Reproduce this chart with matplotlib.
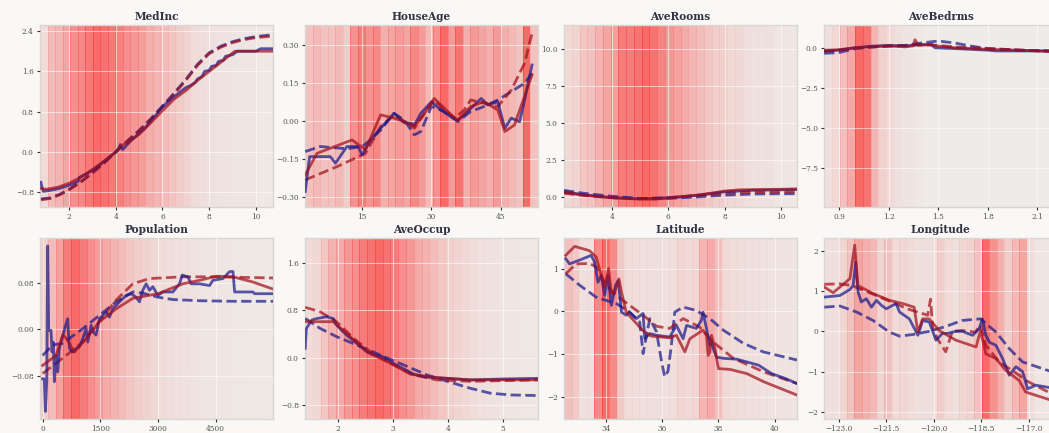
import numpy as np
import matplotlib
matplotlib.use('Agg')
import matplotlib.pyplot as plt

plt.rcParams['font.family'] = ['DejaVu Serif']

BLUE = '#1a1a8c'
RED = '#a3101c'

features = ['MedInc', 'HouseAge', 'AveRooms', 'AveBedrms',
            'Population', 'AveOccup', 'Latitude', 'Longitude']

# relative sample density per equal-width bin (drawn as red bands)
medinc_density = [0.1, 0.3, 0.35, 0.45, 0.6, 0.65, 0.75, 0.85, 0.8, 0.75, 0.7, 0.6, 0.55, 0.5, 0.4,
                  0.35, 0.3, 0.25, 0.2, 0.15, 0.1, 0.08, 0.06, 0.05, 0.04, 0.04, 0.03, 0.03, 0.03, 0.02, 0.02]
houseage_density = [0.2, 0.25, 0.2, 0.2, 0.25, 0.15, 0.45, 0.55, 0.45, 0.5, 0.3, 0.35, 0.4, 0.35, 0.5,
                    0.4, 0.25, 0.45, 0.65, 0.4, 0.6, 0.3, 0.4, 0.35, 0.3, 0.4, 0.3, 0.25, 0.2, 0.65, 0.2]
averooms_density = [0.1, 0.12, 0.2, 0.22, 0.3, 0.38, 0.42, 0.6, 0.6, 0.65, 0.7, 0.65, 0.55, 0.45, 0.4,
                    0.35, 0.28, 0.25, 0.2, 0.15, 0.15, 0.1, 0.1, 0.07, 0.05, 0.05, 0.05, 0.03, 0.03, 0.02]
avebedrms_density = [0.05, 0.08, 0.2, 0.3, 0.6, 0.55, 0.25, 0.12, 0.08, 0.05, 0.03, 0.02, 0.01, 0, 0,
                     0, 0, 0, 0, 0, 0, 0, 0, 0, 0, 0, 0, 0, 0, 0]
population_density = [0.15, 0.25, 0.4, 0.6, 0.7, 0.6, 0.5, 0.42, 0.35, 0.3, 0.25, 0.2, 0.16, 0.13, 0.1,
                      0.08, 0.07, 0.06, 0.05, 0.04, 0.035, 0.03, 0.03, 0.025, 0.02, 0.02, 0.02, 0.015, 0.015, 0.01]
aveoccup_density = [0.08, 0.1, 0.2, 0.3, 0.35, 0.45, 0.5, 0.6, 0.65, 0.7, 0.65, 0.6, 0.5, 0.45, 0.35,
                    0.3, 0.25, 0.2, 0.15, 0.12, 0.1, 0.08, 0.06, 0.05, 0.04, 0.03, 0.03, 0.02, 0.02, 0.02]
latitude_density = [0.2, 0.15, 0.05, 0.05, 0.45, 0.6, 0.45, 0.15, 0.07, 0.06, 0.06, 0.06, 0.05, 0.05, 0.06,
                    0.1, 0.08, 0.1, 0.25, 0.3, 0.2, 0.08, 0.07, 0.06, 0.05, 0.05, 0.04, 0.04, 0.03, 0.03, 0.03]
longitude_density = [0.05, 0.05, 0.1, 0.2, 0.35, 0.3, 0.25, 0.1, 0.2, 0.08, 0.1, 0.08, 0.05, 0.05, 0.05,
                     0.15, 0.08, 0.05, 0.1, 0.12, 0.2, 0.65, 0.45, 0.3, 0.15, 0.25, 0.35, 0.08, 0.03, 0.03, 0.03]

# MedInc curves
medinc_bs_x = [0.8, 0.82, 0.9, 1.2, 1.6, 2.0, 2.4, 2.45, 2.8, 3.2, 3.6, 4.0, 4.15, 4.2, 4.3, 4.7, 5.2, 5.7,
               6.0, 6.5, 7.0, 7.2, 7.4, 7.5, 7.7, 7.8, 8.0, 8.1, 8.3, 8.4, 8.6, 8.7, 9.0, 9.2, 10.0, 10.2, 10.73]
medinc_bs_y = [-0.6, -0.65, -0.78, -0.76, -0.72, -0.66, -0.58, -0.5, -0.42, -0.3, -0.15, 0.0, 0.08, 0.15, 0.05,
               0.25, 0.45, 0.72, 0.9, 1.1, 1.28, 1.32, 1.38, 1.45, 1.5, 1.6, 1.62, 1.7, 1.72, 1.8, 1.82, 1.9,
               1.93, 2.0, 2.0, 2.05, 2.05]
medinc_rs_x = [0.8, 1.0, 1.5, 2.0, 2.5, 3.0, 3.5, 4.0, 4.2, 4.5, 5.0, 5.5, 6.0, 6.5, 7.0, 7.5, 8.0, 8.5, 9.1, 10.73]
medinc_rs_y = [-0.72, -0.74, -0.7, -0.62, -0.5, -0.35, -0.18, 0.0, 0.12, 0.18, 0.35, 0.58, 0.82, 1.05, 1.22,
               1.42, 1.6, 1.78, 2.0, 2.0]
medinc_dash_x = [0.8, 1.2, 1.6, 2.0, 2.5, 3.0, 3.5, 4.0, 4.5, 5.0, 5.5, 6.0, 6.5, 7.0, 7.5, 8.0, 8.5, 9.0,
                 9.5, 10.0, 10.73]
medinc_bd_y = [-0.93, -0.91, -0.84, -0.74, -0.59, -0.41, -0.21, 0.0, 0.22, 0.43, 0.66, 0.91, 1.17, 1.44,
               1.74, 1.97, 2.1, 2.19, 2.25, 2.29, 2.33]
medinc_rd_y = [-0.95, -0.92, -0.85, -0.75, -0.6, -0.42, -0.22, 0.0, 0.22, 0.42, 0.65, 0.9, 1.15, 1.42,
               1.72, 1.95, 2.08, 2.17, 2.23, 2.27, 2.3]

# HouseAge curves
houseage_bs_x = [2.65, 3.6, 5.9, 8.1, 9.2, 11.7, 14.1, 15.0, 16.8, 19.0, 21.9, 24.1, 25.5, 26.3, 27.7, 30.0,
                 32.1, 34.2, 35.7, 37.1, 40.8, 42.2, 44.4, 45.9, 47.3, 49.1, 50.2, 51.8]
houseage_bs_y = [-0.279, -0.141, -0.141, -0.141, -0.167, -0.101, -0.101, -0.134, -0.075, -0.029, 0.030, -0.007,
                 -0.009, -0.016, 0.030, 0.076, 0.043, 0.017, 0.004, 0.024, 0.089, 0.063, 0.076, -0.029, 0.011,
                 -0.003, 0.083, 0.221]
houseage_rs_x = [2.65, 5.2, 12.8, 15.7, 19.0, 21.9, 24.1, 26.3, 28.5, 30.6, 32.8, 35.7, 38.5, 41.4, 44.4,
                 45.9, 48.0, 51.8]
houseage_rs_y = [-0.213, -0.128, -0.075, -0.114, 0.024, 0.011, -0.003, -0.022, 0.030, 0.089, 0.050, 0.001,
                 0.057, 0.076, 0.043, -0.042, -0.016, 0.182]
houseage_rd_x = [2.65, 9.6, 15.7, 19.0, 21.9, 24.8, 26.3, 28.5, 30.6, 32.8, 35.0, 37.1, 38.5, 41.4, 44.4,
                 47.3, 50.2, 51.8]
houseage_rd_y = [-0.233, -0.18, -0.128, -0.022, 0.024, -0.009, -0.029, 0.030, 0.083, 0.043, 0.011, 0.043,
                 0.083, 0.070, 0.057, 0.122, 0.228, 0.346]
houseage_bd_x = [2.65, 5.9, 11.7, 15.0, 16.8, 19.0, 21.9, 24.1, 26.3, 27.7, 30.0, 32.8, 35.7, 38.5, 41.4,
                 44.4, 47.3, 50.2, 51.8]
houseage_bd_y = [-0.121, -0.101, -0.11, -0.101, -0.075, -0.036, 0.030, 0.004, -0.055, -0.042, 0.057, 0.037,
                 -0.003, 0.037, 0.057, 0.083, 0.116, 0.149, 0.188]

# AveRooms curves
averooms_bs_x = [2.3, 3.0, 3.5, 4.0, 5.0, 6.0, 7.0, 8.0, 9.0, 10.57]
averooms_bs_y = [0.35, 0.15, 0.05, -0.05, -0.12, -0.05, 0.1, 0.35, 0.45, 0.5]
averooms_rs_x = [2.3, 3.0, 4.0, 5.0, 5.5, 6.0, 6.5, 7.0, 7.5, 8.0, 8.5, 9.0, 10.0, 10.57]
averooms_rs_y = [0.3, 0.12, -0.05, -0.15, -0.15, -0.08, 0.02, 0.12, 0.25, 0.4, 0.48, 0.5, 0.52, 0.55]
averooms_bd_x = [2.3, 3.0, 4.0, 5.0, 5.5, 6.0, 7.0, 8.0, 9.0, 10.0, 10.57]
averooms_bd_y = [0.45, 0.25, 0.05, -0.1, -0.12, -0.1, 0.0, 0.12, 0.2, 0.22, 0.22]
averooms_rd_x = [2.3, 3.0, 4.0, 5.0, 6.0, 7.0, 8.0, 9.0, 10.57]
averooms_rd_y = [0.25, 0.1, -0.05, -0.12, -0.05, 0.1, 0.25, 0.32, 0.35]

# AveBedrms curves
avebedrms_bs_x = [0.81, 0.9, 1.0, 1.1, 1.2, 1.3, 1.37, 1.46, 1.48, 1.6, 1.8, 1.85, 2.22]
avebedrms_bs_y = [-0.2, -0.15, 0.0, 0.1, 0.15, 0.1, 0.2, 0.2, 0.0, -0.05, -0.15, -0.2, -0.2]
avebedrms_rs_x = [0.81, 0.9, 1.0, 1.1, 1.2, 1.3, 1.35, 1.36, 1.38, 1.46, 1.5, 1.6, 1.8, 2.0, 2.22]
avebedrms_rs_y = [-0.15, -0.12, 0.0, 0.05, 0.12, 0.05, 0.12, 0.5, 0.15, 0.2, 0.1, 0.0, -0.1, -0.15, -0.25]
avebedrms_bd_x = [0.81, 0.9, 1.0, 1.1, 1.2, 1.3, 1.4, 1.5, 1.6, 1.7, 1.8, 2.0, 2.22]
avebedrms_bd_y = [-0.35, -0.3, -0.05, 0.05, 0.1, 0.15, 0.3, 0.42, 0.3, 0.1, -0.05, -0.15, -0.2]
avebedrms_rd_x = [0.81, 0.9, 1.0, 1.2, 1.4, 1.5, 1.6, 1.8, 2.0, 2.22]
avebedrms_rd_y = [-0.25, -0.15, -0.02, 0.1, 0.18, 0.15, 0.05, -0.05, -0.15, -0.25]

# Population curves
population_bs_x = [0, 40, 70, 105, 130, 156, 217, 243, 278, 304, 347, 391, 434, 590, 650, 695, 782, 869, 956,
                   1043, 1130, 1173, 1260, 1321, 1390, 1477, 1564, 1651, 1738, 1824, 1911, 1998, 2172, 2302,
                   2432, 2519, 2606, 2693, 2780, 2866, 3000, 3127, 3388, 3561, 3631, 3778, 3864, 4082, 4343,
                   4430, 4691, 4865, 4952, 4995, 5473, 5516, 5994]
population_bs_y = [-0.085, -0.085, -0.141, -0.09, 0.143, -0.002, -0.002, -0.039, -0.022, -0.09, -0.045,
                   -0.073, -0.033, 0.005, 0.018, -0.033, -0.039, -0.033, -0.03, -0.016, 0.001, -0.022, 0.007,
                   -0.005, -0.01, 0.018, 0.024, 0.029, 0.021, 0.035, 0.041, 0.047, 0.058, 0.061, 0.055, 0.047,
                   0.067, 0.078, 0.067, 0.073, 0.058, 0.064, 0.064, 0.078, 0.093, 0.090, 0.078, 0.078, 0.075,
                   0.084, 0.087, 0.099, 0.099, 0.064, 0.064, 0.061, 0.061]
population_rs_x = [0, 347, 521, 608, 825, 1130, 1477, 1911, 2345, 3000, 3647, 4082, 4517, 4952, 5473, 5994]
population_rs_y = [-0.062, -0.045, -0.01, -0.015, -0.039, -0.016, 0.013, 0.035, 0.053, 0.061, 0.078, 0.084,
                   0.091, 0.09, 0.081, 0.069]
population_bd_x = [0, 260, 521, 1043, 1477, 1911, 2345, 2606, 3000, 3388, 4082, 4952, 5994]
population_bd_y = [-0.045, -0.027, -0.024, 0.001, 0.024, 0.047, 0.064, 0.062, 0.055, 0.051, 0.049, 0.048,
                   0.048]
population_rd_x = [0, 608, 1043, 1477, 1911, 2345, 2780, 3647, 4517, 5994]
population_rd_y = [-0.076, -0.045, -0.022, 0.013, 0.05, 0.078, 0.087, 0.09, 0.09, 0.088]

# AveOccup curves
aveoccup_bs_x = [1.41, 1.43, 1.47, 1.53, 1.62, 1.8, 1.92, 1.98, 2.16, 2.35, 2.53, 2.65, 2.78, 2.84, 3.02,
                 3.2, 3.38, 3.62, 3.99, 4.41, 5.02, 5.63]
aveoccup_bs_y = [0.157, 0.49, 0.55, 0.635, 0.66, 0.69, 0.66, 0.55, 0.38, 0.24, 0.1, 0.045, 0.03, 0.0, -0.1,
                 -0.19, -0.28, -0.33, -0.35, -0.376, -0.36, -0.35]
aveoccup_rs_x = [1.41, 1.68, 1.92, 2.16, 2.53, 3.02, 3.32, 3.8, 4.41, 5.63]
aveoccup_rs_y = [0.607, 0.607, 0.607, 0.41, 0.1, -0.124, -0.28, -0.337, -0.376, -0.376]
aveoccup_bd_x = [1.41, 1.68, 1.98, 2.35, 2.77, 3.2, 3.62, 3.99, 4.41, 4.77, 5.14, 5.63]
aveoccup_bd_y = [0.663, 0.494, 0.354, 0.213, 0.045, -0.124, -0.29, -0.4, -0.517, -0.6, -0.63, -0.64]
aveoccup_rd_x = [1.41, 1.68, 1.98, 2.29, 2.59, 3.02, 3.38, 3.8, 4.41, 5.63]
aveoccup_rd_y = [0.85, 0.775, 0.607, 0.326, 0.1, -0.124, -0.29, -0.376, -0.4, -0.376]

# Latitude curves
latitude_bs_x = [32.55, 32.69, 33.05, 33.46, 33.58, 33.7, 33.82, 33.94, 34.06, 34.18, 34.33, 34.42, 34.54,
                 34.71, 34.83, 35.07, 35.31, 35.37, 35.55, 35.79, 36.26, 36.5, 36.74, 36.86, 37.21, 37.39,
                 37.45, 37.57, 37.69, 37.75, 37.81, 37.93, 38.17, 38.65, 39.43, 39.9, 40.38, 40.8]
latitude_bs_y = [1.23, 1.11, 1.2, 1.31, 1.15, 0.68, 0.84, 0.37, 0.84, 0.14, 0.61, 0.72, -0.02, -0.09, -0.02,
                 -0.17, -0.05, -0.64, -0.52, -0.56, -0.6, -0.33, -0.64, -0.33, -0.4, -0.21, -0.02, -0.4, -0.79,
                 -0.68, -0.87, -1.07, -1.1, -1.12, -1.26, -1.46, -1.57, -1.69]
latitude_rs_x = [32.55, 32.87, 33.4, 33.64, 33.82, 33.94, 34.08, 34.18, 34.3, 34.45, 34.54, 34.71, 35.3,
                 35.6, 36.26, 36.5, 36.8, 36.98, 37.45, 37.57, 37.63, 37.69, 37.75, 37.87, 38.0, 38.42,
                 39.02, 39.62, 40.8]
latitude_rs_y = [1.31, 1.52, 1.42, 1.27, 0.84, 0.57, 1.0, 0.41, 0.45, 0.76, 0.45, -0.02, -0.45, -0.58,
                 -0.62, -0.56, -0.95, -0.64, -0.44, -0.56, -1.03, -0.96, -0.56, -0.87, -1.34, -1.36, -1.46,
                 -1.65, -1.96]
latitude_bd_x = [32.55, 33.05, 33.64, 34.36, 34.83, 35.19, 35.31, 35.55, 35.79, 35.97, 36.08, 36.2, 36.32,
                 36.44, 36.74, 37.21, 37.69, 38.17, 38.89, 39.6, 40.8]
latitude_bd_y = [0.88, 0.61, 0.33, 0.18, -0.02, -0.25, -0.99, -0.17, -0.48, -1.18, -1.53, -1.4, -0.79,
                 -0.02, 0.1, 0.02, -0.17, -0.44, -0.75, -0.95, -1.14]
latitude_rd_x = [32.55, 32.93, 33.4, 33.64, 34.0, 34.36, 34.83, 35.31, 35.79, 36.26, 36.74, 37.33, 37.81,
                 38.53, 39.62, 40.8]
latitude_rd_y = [0.88, 1.11, 1.12, 1.04, 0.61, 0.37, 0.14, -0.09, -0.35, -0.4, -0.17, -0.37, -0.72, -1.1,
                 -1.42, -1.69]

# Longitude curves
longitude_bs_x = [-123.46, -122.97, -122.65, -122.55, -122.47, -122.39, -122.29, -122.13, -121.97, -121.81,
                  -121.66, -121.5, -121.19, -121.08, -120.77, -120.5, -120.35, -120.14, -120.03, -119.93,
                  -119.72, -119.56, -119.3, -119.09, -118.77, -118.56, -118.46, -118.35, -118.24, -118.03,
                  -117.82, -117.61, -117.4, -117.19, -117.03, -116.77, -116.1]
longitude_bs_y = [0.85, 0.89, 1.04, 1.14, 1.72, 0.97, 0.73, 0.81, 0.6, 0.77, 0.65, 0.56, 0.69, 0.48, 0.31,
                  -0.1, 0.27, 0.23, 0.0, -0.22, -0.05, -0.05, 0.0, 0.0, -0.1, 0.07, 0.31, -0.1, -0.27, -0.35,
                  -0.68, -1.09, -0.88, -1.0, -1.43, -1.34, -1.43]
longitude_rs_x = [-123.46, -123.18, -122.65, -122.5, -122.4, -121.92, -121.4, -120.98, -120.62, -120.5,
                  -120.35, -120.14, -119.83, -119.3, -118.66, -118.52, -118.35, -118.03, -117.72, -117.3,
                  -117.09, -116.1]
longitude_rs_y = [1.1, 0.96, 1.31, 2.14, 1.14, 0.94, 0.77, 0.69, 0.6, -0.02, 0.31, 0.31, 0.02, -0.22, -0.39,
                  0.02, -0.56, -0.68, -0.97, -1.22, -1.51, -1.76]
longitude_bd_x = [-123.46, -122.97, -122.44, -121.92, -121.4, -121.08, -120.66, -120.14, -119.62, -119.1,
                  -118.52, -118.03, -117.61, -117.19, -116.1]
longitude_bd_y = [0.6, 0.63, 0.48, 0.27, -0.02, -0.12, -0.08, 0.0, 0.12, 0.27, 0.31, -0.02, -0.43, -0.76,
                  -1.05]
longitude_rd_x = [-123.46, -122.97, -122.6, -122.0, -121.4, -120.8, -120.19, -120.1, -120.03, -119.87,
                  -119.62, -119.41, -119.1, -118.68, -118.52, -118.35, -117.93, -117.3, -117.09, -116.1]
longitude_rd_y = [1.17, 1.18, 1.14, 0.95, 0.75, 0.55, 0.4, 0.8, 0.07, -0.2, -0.51, 0.0, 0.02, -0.02, 0.15,
                  -0.35, -0.76, -1.09, -1.22, -1.62]

densities = [medinc_density, houseage_density, averooms_density, avebedrms_density,
             population_density, aveoccup_density, latitude_density, longitude_density]
curves = [
    (medinc_bs_x, medinc_bs_y, medinc_dash_x, medinc_bd_y, medinc_rs_x, medinc_rs_y, medinc_dash_x, medinc_rd_y),
    (houseage_bs_x, houseage_bs_y, houseage_bd_x, houseage_bd_y, houseage_rs_x, houseage_rs_y, houseage_rd_x, houseage_rd_y),
    (averooms_bs_x, averooms_bs_y, averooms_bd_x, averooms_bd_y, averooms_rs_x, averooms_rs_y, averooms_rd_x, averooms_rd_y),
    (avebedrms_bs_x, avebedrms_bs_y, avebedrms_bd_x, avebedrms_bd_y, avebedrms_rs_x, avebedrms_rs_y, avebedrms_rd_x, avebedrms_rd_y),
    (population_bs_x, population_bs_y, population_bd_x, population_bd_y, population_rs_x, population_rs_y, population_rd_x, population_rd_y),
    (aveoccup_bs_x, aveoccup_bs_y, aveoccup_bd_x, aveoccup_bd_y, aveoccup_rs_x, aveoccup_rs_y, aveoccup_rd_x, aveoccup_rd_y),
    (latitude_bs_x, latitude_bs_y, latitude_bd_x, latitude_bd_y, latitude_rs_x, latitude_rs_y, latitude_rd_x, latitude_rd_y),
    (longitude_bs_x, longitude_bs_y, longitude_bd_x, longitude_bd_y, longitude_rs_x, longitude_rs_y, longitude_rd_x, longitude_rd_y),
]

# axis ranges and ticks per panel
xlims = [(0.76, 10.73), (2.6, 53.1), (2.3, 10.57), (0.809, 2.22),
         (-70, 5994), (1.406, 5.64), (32.49, 40.8), (-123.47, -116.1)]
ylims = [(-1.09, 2.52), (-0.34, 0.379), (-0.68, 11.65), (-9.94, 1.42),
         (-0.154, 0.1566), (-1.036, 2.02), (-2.52, 1.716), (-2.18, 2.32)]
xticks = [[2, 4, 6, 8, 10], [15, 30, 45], [4, 6, 8, 10], [0.9, 1.2, 1.5, 1.8, 2.1],
          [0, 1500, 3000, 4500], [2, 3, 4, 5], [34, 36, 38, 40], [-123.0, -121.5, -120.0, -118.5, -117.0]]
yticks = [[-0.8, 0.0, 0.8, 1.6, 2.4], [-0.30, -0.15, 0.0, 0.15, 0.30], [0.0, 2.5, 5.0, 7.5, 10.0],
          [-7.5, -5.0, -2.5, 0.0], [-0.08, 0.0, 0.08], [-0.8, 0.0, 0.8, 1.6], [-2, -1, 0, 1], [-2, -1, 0, 1, 2]]
xfmt = ['{:g}', '{:g}', '{:g}', '{:.1f}', '{:g}', '{:g}', '{:g}', '{:.1f}']
yfmt = ['{:.1f}', '{:.2f}', '{:.1f}', '{:.1f}', '{:.2f}', '{:.1f}', '{:g}', '{:g}']

W, H = 1049, 433
col_left = [40, 305, 564, 824]
row_top = [25, 238]
row_h = [182, 181]
ax_w = 233

fig = plt.figure(figsize=(W / 100, H / 100), dpi=100, facecolor='#f9f8f6')

for i, name in enumerate(features):
    r, c = divmod(i, 4)
    left = col_left[c] / W
    bottom = (H - row_top[r] - row_h[r]) / H
    ax = fig.add_axes([left, bottom, ax_w / W, row_h[r] / H])
    ax.set_facecolor('#efebe8')

    x0, x1 = xlims[i]
    dens = np.array(densities[i], dtype=float)
    edges = np.linspace(x0, x1, len(dens) + 1)
    alphas = 0.55 * dens / dens.max()
    for lo, hi, a in zip(edges[:-1], edges[1:], alphas):
        if a <= 0:
            continue
        ax.axvspan(lo, hi, facecolor='red', alpha=a, lw=0, zorder=0)
        ax.axvline(lo, color='red', alpha=min(a * 0.6, 0.4), lw=0.6, zorder=0.5)

    bsx, bsy, bdx, bdy, rsx, rsy, rdx, rdy = curves[i]
    ax.plot(bdx, bdy, color=BLUE, lw=2, ls='--', alpha=0.72, zorder=3)
    ax.plot(rdx, rdy, color=RED, lw=2, ls='--', alpha=0.72, zorder=3)
    ax.plot(bsx, bsy, color=BLUE, lw=2, alpha=0.72, zorder=4)
    ax.plot(rsx, rsy, color=RED, lw=2, alpha=0.72, zorder=4)

    ax.set_xlim(x0, x1)
    ax.set_ylim(*ylims[i])
    ax.set_xticks(xticks[i])
    ax.set_xticklabels([xfmt[i].format(t).replace('-', '\u2212') for t in xticks[i]])
    ax.set_yticks(yticks[i])
    ax.set_yticklabels([yfmt[i].format(t).replace('-', '\u2212') for t in yticks[i]])
    ax.grid(True, color='white', lw=0.8, alpha=0.55, zorder=1)
    ax.set_axisbelow(False)
    ax.tick_params(labelsize=5.3, labelcolor='#555555', length=2.5, width=0.8, color='#333333', pad=2)
    for s in ax.spines.values():
        s.set_color('#dad6d2')
        s.set_linewidth(1)
    ax.set_title(name, fontsize=7.6, fontweight='bold', color='#333344', pad=3.5)

fig.savefig('out.png', dpi=100, facecolor=fig.get_facecolor())
